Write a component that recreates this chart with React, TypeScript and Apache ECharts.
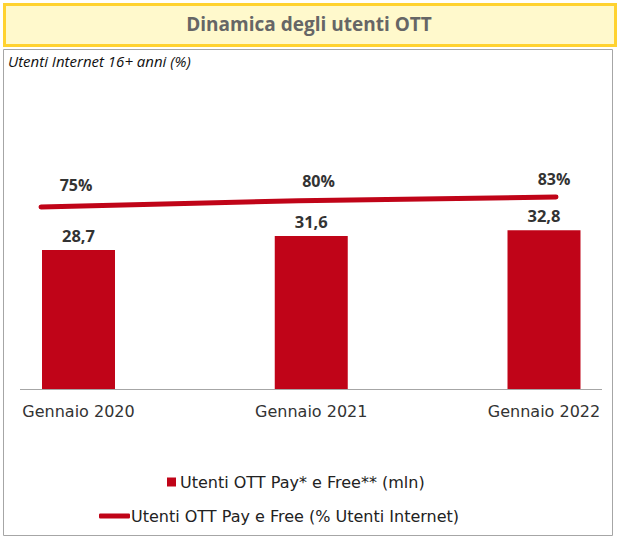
import React, { useEffect, useRef } from "react";
import * as echarts from "echarts";

const categories = ["Gennaio 2020", "Gennaio 2021", "Gennaio 2022"];
const barValues = [28.7, 31.6, 32.8];
const lineValues = [75, 80, 83];
const barName = "Utenti OTT Pay* e Free** (mln)";
const lineName = "Utenti OTT Pay e Free (% Utenti Internet)";
const titleText = "Dinamica degli utenti OTT";
const subtitleText = "Utenti Internet 16+ anni (%)";

const RED = "#C00418";
const FONT = "'Open Sans', Lato, sans-serif";
const FONT2 = "'DejaVu Sans', 'Open Sans', sans-serif";
const lineLabelOffsets = [
  [35, -14],
  [20, -11],
  [-2, -10],
];

export default function App() {
  const ref = useRef<HTMLDivElement>(null);
  useEffect(() => {
    if (!ref.current) return;
    const chart = echarts.init(ref.current, null, { renderer: "svg" });
    chart.setOption({
      animation: false,
      backgroundColor: "#ffffff",
      textStyle: { fontFamily: FONT },
      graphic: [
        {
          type: "rect",
          shape: { x: 4.5, y: 4.5, width: 611, height: 41 },
          style: { fill: "#FFF9CC", stroke: "#FFD230", lineWidth: 3 },
        },
        {
          type: "text",
          x: 309,
          y: 24,
          style: {
            text: titleText,
            fontFamily: FONT,
            fontSize: 19,
            fontWeight: "bold",
            fill: "#666666",
            align: "center",
            verticalAlign: "middle",
          },
        },
        {
          type: "rect",
          shape: { x: 3.5, y: 49.5, width: 609, height: 486 },
          style: { fill: "none", stroke: "#A6A6A6", lineWidth: 1 },
        },
        {
          type: "text",
          x: 8,
          y: 61,
          style: {
            text: subtitleText,
            fontFamily: FONT,
            fontSize: 15,
            fontStyle: "italic",
            fill: "#111111",
            verticalAlign: "middle",
          },
        },
        {
          type: "line",
          shape: { x1: 20, y1: 389.5, x2: 602, y2: 389.5 },
          style: { stroke: "#A6A6A6", lineWidth: 1 },
        },
      ],
      legend: [
        {
          data: [{ name: barName, icon: "rect" }],
          top: 469,
          left: 162,
          itemWidth: 9,
          itemHeight: 9,
          textStyle: { fontFamily: FONT2, fontSize: 16, color: "#222222", padding: [0, 0, 0, -1] },
        },
        {
          data: [{ name: lineName, icon: "roundRect" }],
          top: 503,
          left: 94,
          itemWidth: 31,
          itemHeight: 5,
          itemStyle: { color: RED },
          textStyle: { fontFamily: FONT2, fontSize: 16, color: "#222222", padding: [0, 0, 0, -4] },
        },
      ],
      grid: [
        { left: 78.5, right: 75, top: 147, height: 242 },
        { left: 41, right: 63, top: 175.75, height: 125 },
      ],
      xAxis: [
        {
          type: "category",
          gridIndex: 0,
          data: categories,
          boundaryGap: false,
          axisLine: { show: false },
          axisTick: { show: false },
          axisLabel: {
            margin: 14,
            fontFamily: FONT2,
            fontSize: 16,
            color: "#333333",
          },
        },
        {
          type: "category",
          gridIndex: 1,
          data: categories,
          boundaryGap: false,
          show: false,
        },
      ],
      yAxis: [
        { type: "value", gridIndex: 0, min: 0, max: 50, show: false, splitLine: { show: false } },
        { type: "value", gridIndex: 1, min: 0, max: 100, show: false, splitLine: { show: false } },
      ],
      series: [
        {
          name: barName,
          type: "bar",
          xAxisIndex: 0,
          yAxisIndex: 0,
          data: barValues,
          barWidth: 73,
          itemStyle: { color: RED },
          label: {
            show: true,
            position: "top",
            distance: 6,
            fontFamily: FONT,
            fontSize: 16.5,
            fontWeight: "bold",
            color: "#333333",
            formatter: (p: any) => String(p.value).replace(".", ","),
          },
        },
        {
          name: lineName,
          type: "line",
          xAxisIndex: 1,
          yAxisIndex: 1,
          symbol: "circle",
          symbolSize: 1,
          itemStyle: { color: RED },
          lineStyle: { color: RED, width: 5, cap: "round" },
          data: lineValues.map((v, i) => ({
            value: v,
            label: { offset: lineLabelOffsets[i] },
          })),
          label: {
            show: true,
            position: "top",
            distance: 0,
            fontFamily: FONT,
            fontSize: 16,
            fontWeight: "bold",
            color: "#333333",
            formatter: (p: any) => p.value + "%",
          },
        },
      ],
    });
    return () => chart.dispose();
  }, []);
  return (
    <div
      ref={ref}
      style={{ position: "fixed", left: 0, top: 0, width: 619, height: 545 }}
    />
  );
}
